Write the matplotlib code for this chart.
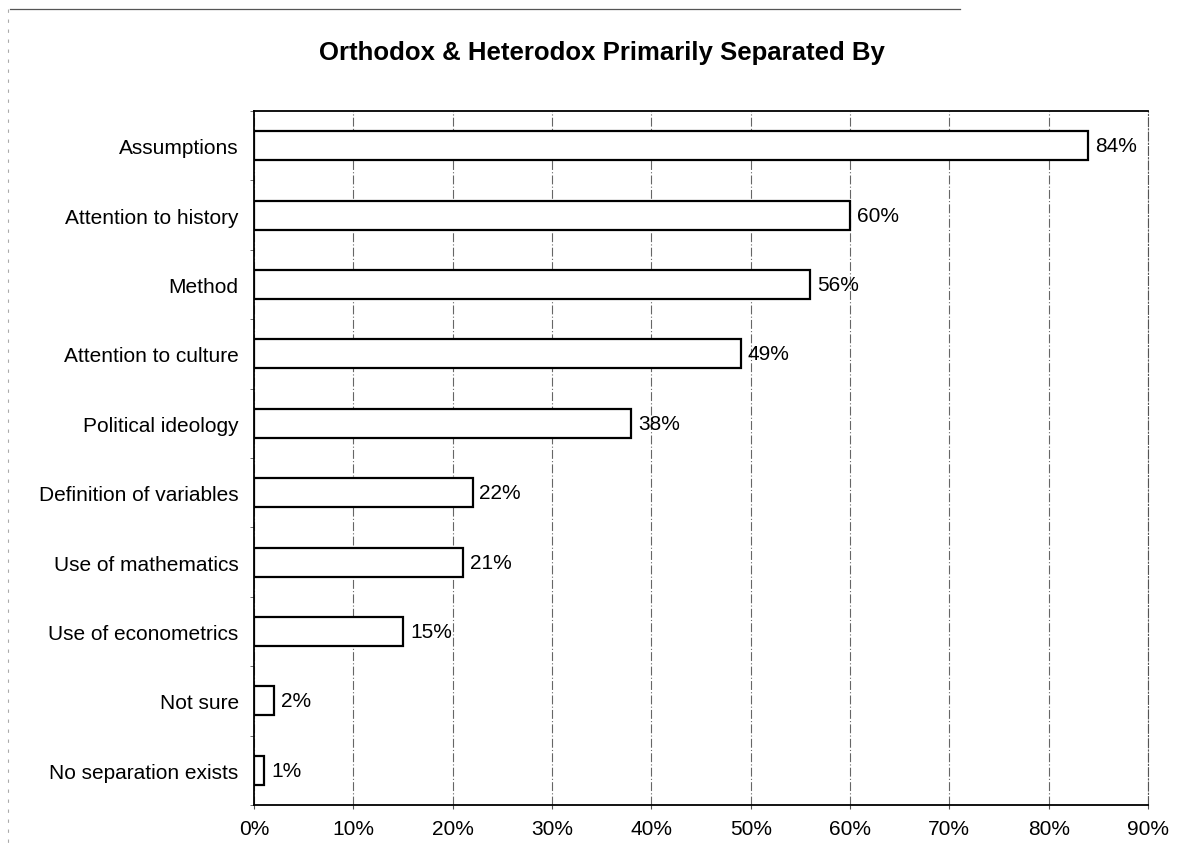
import matplotlib.pyplot as plt
import numpy as np
from matplotlib.lines import Line2D
from matplotlib.ticker import PercentFormatter

plt.rcParams['font.family'] = ['Liberation Sans', 'DejaVu Sans']

categories = ['Assumptions', 'Attention to history', 'Method', 'Attention to culture',
              'Political ideology', 'Definition of variables', 'Use of mathematics',
              'Use of econometrics', 'Not sure', 'No separation exists']
values = [84, 60, 56, 49, 38, 22, 21, 15, 2, 1]

fig = plt.figure(figsize=(12.03, 8.62), dpi=100)
ax = fig.add_axes([254/1203, 1-806/862, (1148-254)/1203, (806-112)/862])

y = np.arange(len(categories))
ax.barh(y, values, height=0.42, color='white', edgecolor='black', linewidth=1.6, zorder=3)
for yi, v in zip(y, values):
    ax.text(v + 0.7, yi, '%d%%' % v, va='center', ha='left', fontsize=15)

ax.set_xlim(0, 90)
ax.set_ylim(len(categories) - 0.5, -0.5)
ax.set_xticks(np.arange(0, 91, 10))
ax.xaxis.set_major_formatter(PercentFormatter(decimals=0))
ax.set_yticks(y)
ax.set_yticklabels(categories)
ax.set_yticks(np.arange(-0.5, len(categories), 1), minor=True)
ax.tick_params(axis='y', which='major', length=0, pad=11, labelsize=15)
ax.tick_params(axis='y', which='minor', length=3, direction='out', color='#555555')
ax.tick_params(axis='x', length=3, direction='out', pad=7, labelsize=15, color='#555555')

ax.grid(axis='x', color='#666666', linestyle=(0, (8, 2, 1, 2)), linewidth=0.8, zorder=0)
for side in ['left', 'bottom', 'top']:
    ax.spines[side].set_linewidth(1.3)
ax.spines['right'].set_linestyle((0, (8, 2, 1, 2)))
ax.spines['right'].set_color('#555555')

fig.text(602/1203, 1-53/862, 'Orthodox & Heterodox Primarily Separated By',
         ha='center', va='center', fontsize=18.5, fontweight='bold')

# page frame remnants at top and left
fig.add_artist(Line2D([10/1203, 960/1203], [1-10/862, 1-10/862], color='#555555',
                      linewidth=0.9))
fig.add_artist(Line2D([8/1203, 8/1203], [1-10/862, 1-850/862], color='#aaaaaa',
                      linewidth=0.8, linestyle=(0, (3, 6))))

fig.savefig('out.png', dpi=100)
